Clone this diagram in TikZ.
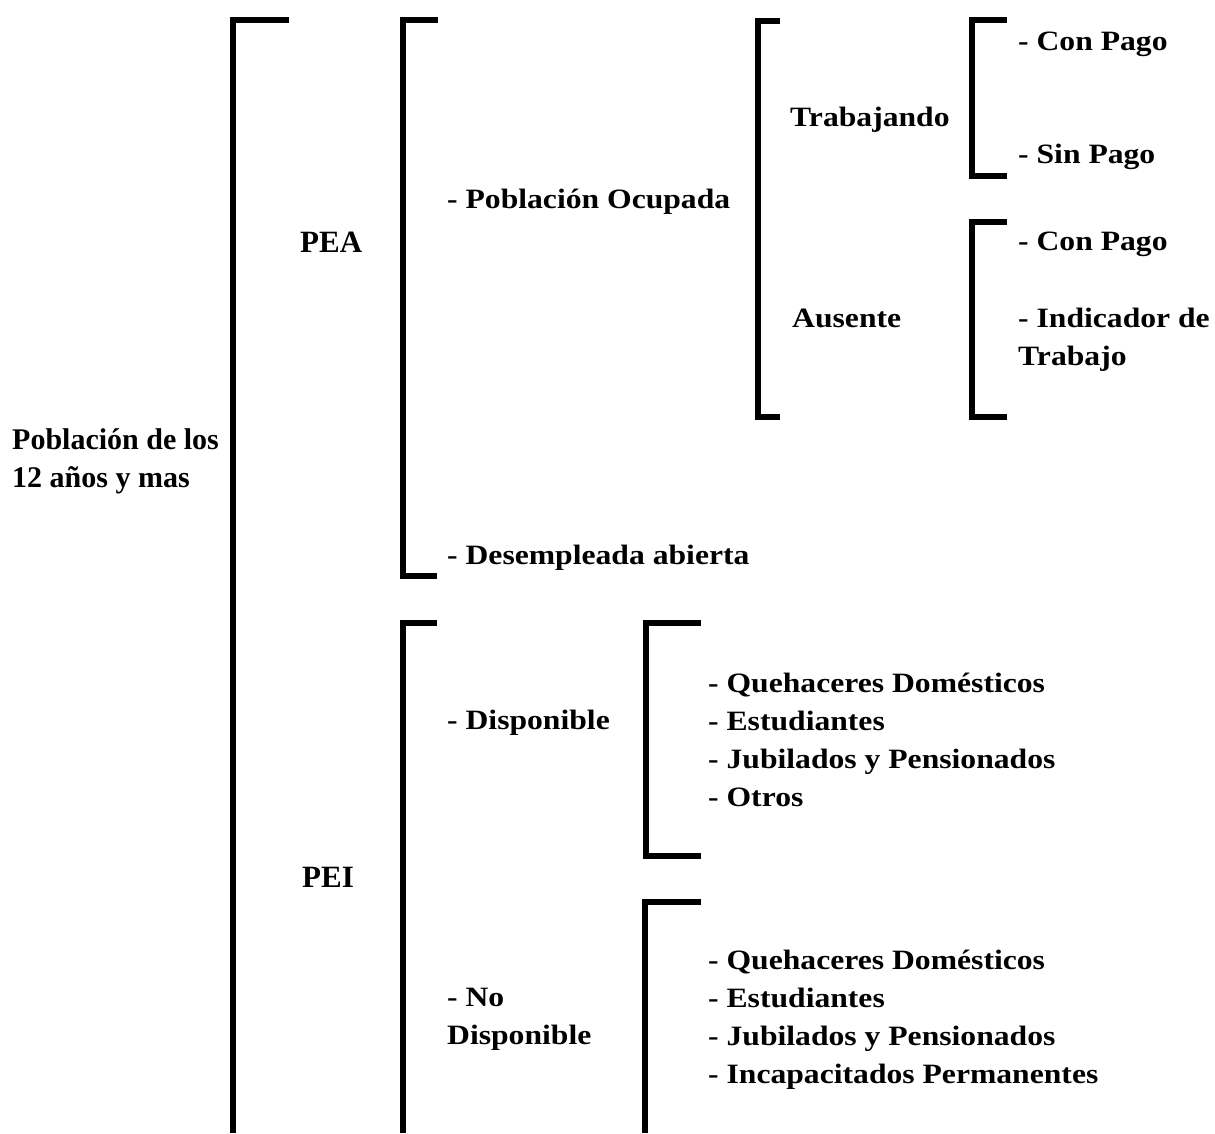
\documentclass[tikz,border=0pt]{standalone}
\usepackage{fontspec}
\setmainfont{Liberation Serif}
\newfontfamily\widefont{Liberation Serif}[FakeStretch=1.13]
\usetikzlibrary{positioning}

\tikzstyle{bracket} = [line width=5.5pt, line join=miter, line cap=butt]
\tikzstyle{item} = [anchor=base west, inner sep=0pt, align=left, font=\widefont\bfseries\fontsize{28}{37.7}\selectfont]
\tikzstyle{group} = [anchor=base west, inner sep=0pt, font=\bfseries\fontsize{31}{38}\selectfont]
\tikzstyle{root} = [anchor=base west, inner sep=0pt, align=left, font=\bfseries\fontsize{30}{38}\selectfont]

\begin{document}
\begin{tikzpicture}[x=1pt,y=-1pt]
\useasboundingbox (0,0) rectangle (1215,1133);

%% Root label (base = last line)
\node[root] (poblacion) at (12,487) {Población de los\\12 años y mas};

%% Outer bracket
\draw[bracket] (289,20) -- (233,20) -- (233,1133);

% PEA
\node[group] (pea) at (300,252) {PEA};
\draw[bracket] (438,20) -- (403,20) -- (403,576) -- (437,576);

% PEI
\node[group] (pei) at (302,887) {PEI};
\draw[bracket] (437,623) -- (403,623) -- (403,1133);

% Poblacion ocupada / desempleada
\node[item] (ocupada) at (447,208) {- Población Ocupada};
\node[item] (desempleada) at (447,564) {- Desempleada abierta};
\draw[bracket] (780,21) -- (758,21) -- (758,417) -- (780,417);

% Trabajando
\node[item] (trabajando) at (790,126) {Trabajando};
\draw[bracket] (1007,20) -- (972,20) -- (972,176) -- (1007,176);
\node[item] (tconpago) at (1018,50) {- Con Pago};
\node[item] (tsinpago) at (1018,163) {- Sin Pago};

% Ausente
\node[item] (ausente) at (792,327) {Ausente};
\draw[bracket] (1007,222) -- (972,222) -- (972,417) -- (1007,417);
\node[item] (aconpago) at (1018,250) {- Con Pago};
\node[item] (aindicador) at (1018,365) {- Indicador de\\Trabajo};

% Disponible
\node[item] (disponible) at (447,729) {- Disponible};
\draw[bracket] (701,623) -- (646,623) -- (646,856) -- (701,856);
\node[item] (displist) at (708,806) {
	- Quehaceres Domésticos\\
	- Estudiantes\\
	- Jubilados y Pensionados\\
	- Otros
};

% No disponible
\node[item] (nodisponible) at (447,1044) {- No\\Disponible};
\draw[bracket] (701,902) -- (645,902) -- (645,1133);
\node[item] (nodisplist) at (708,1083) {
	- Quehaceres Domésticos\\
	- Estudiantes\\
	- Jubilados y Pensionados\\
	- Incapacitados Permanentes
};
\end{tikzpicture}
\end{document}
